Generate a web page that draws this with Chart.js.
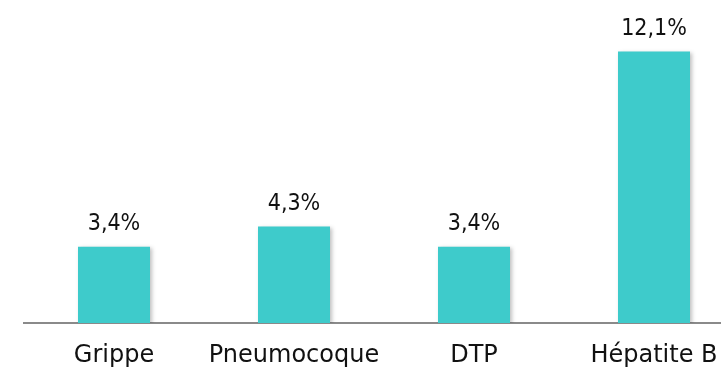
<!DOCTYPE html>
<html>
<head>
<meta charset="utf-8">
<script src="https://cdn.jsdelivr.net/npm/chart.js@4/dist/chart.umd.min.js"></script>
<style>
    html, body { margin: 0; padding: 0; background: #fff; overflow: hidden; }
    #wrap { width: 760px; height: 371px; }
</style>
</head>
<body>
<div id="wrap"><canvas id="chart" width="760" height="371"></canvas></div>
<script>
var categories = ['Grippe', 'Pneumocoque', 'DTP', 'Hépatite B'];
var values = [3.4, 4.3, 3.4, 12.1];
var valueLabels = ['3,4%', '4,3%', '3,4%', '12,1%'];

var barColor = 'rgb(62, 203, 203)';

// etiquettes au-dessus des barres
var labelsPlugin = {
    id: 'valueLabels',
    afterDatasetsDraw: function(chart) {
        var ctx = chart.ctx;
        var meta = chart.getDatasetMeta(0);
        ctx.save();
        ctx.font = '23px "DejaVu Sans Condensed", "DejaVu Sans"';
        ctx.fillStyle = '#111';
        ctx.textAlign = 'center';
        ctx.textBaseline = 'alphabetic';
        meta.data.forEach(function(bar, i) {
            ctx.fillText(valueLabels[i], bar.x, bar.y - 17);
        });
        ctx.restore();
    }
};

// légère ombre sur les barres
var shadowPlugin = {
    id: 'barShadow',
    beforeDatasetsDraw: function(chart) {
        var ctx = chart.ctx;
        ctx.save();
        ctx.shadowColor = 'rgba(0,0,0,0.25)';
        ctx.shadowBlur = 4;
        ctx.shadowOffsetX = 2;
        ctx.shadowOffsetY = 1;
    },
    afterDatasetsDraw: function(chart) {
        chart.ctx.restore();
    }
};

new Chart(document.getElementById('chart').getContext('2d'), {
    type: 'bar',
    data: {
        labels: categories,
        datasets: [{
            data: values,
            backgroundColor: barColor,
            borderWidth: 0,
            categoryPercentage: 1,
            barPercentage: 0.4
        }]
    },
    options: {
        responsive: false,
        animation: false,
        layout: { padding: { left: 24, right: 16, top: 0, bottom: 0 } },
        plugins: { legend: { display: false }, tooltip: { enabled: false } },
        scales: {
            x: {
                grid: { display: false, drawTicks: false },
                border: { display: true, color: '#8a8a8a', width: 2 },
                ticks: {
                    color: '#111',
                    font: { family: '"DejaVu Sans"', size: 24 },
                    padding: 18,
                    maxRotation: 0
                },
                afterFit: function(scale) { scale.height = 48; }
            },
            y: {
                display: false,
                min: 0,
                max: 14.4
            }
        }
    },
    plugins: [shadowPlugin, labelsPlugin]
});
</script>
</body>
</html>
